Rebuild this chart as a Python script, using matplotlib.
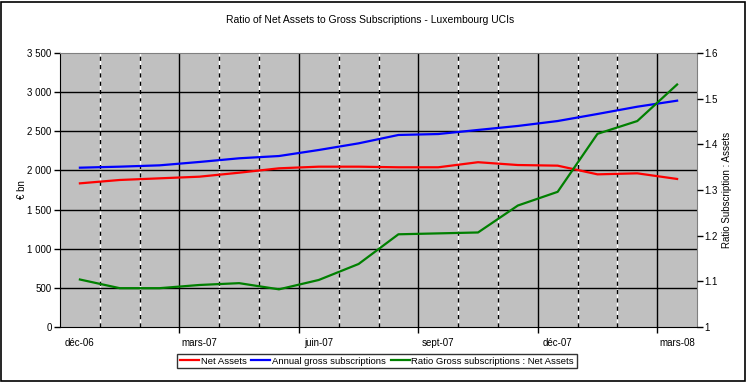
import matplotlib
matplotlib.use("Agg")
import matplotlib.pyplot as plt
from matplotlib.patches import Rectangle

plt.rcParams['font.family'] = ['Liberation Sans', 'DejaVu Sans']

months = ["déc-06", "janv-07", "févr-07", "mars-07", "avr-07", "mai-07", "juin-07", "juil-07",
          "août-07", "sept-07", "oct-07", "nov-07", "déc-07", "janv-08", "févr-08", "mars-08"]
net_assets = [1835, 1878, 1899, 1920, 1971, 2027, 2048, 2048, 2040, 2040, 2105, 2069, 2061, 1950, 1963, 1891]
gross_subs = [2035, 2048, 2065, 2108, 2155, 2184, 2261, 2346, 2453, 2465, 2517, 2568, 2631, 2721, 2814, 2891]
ratio = [1.104, 1.085, 1.085, 1.092, 1.096, 1.0825, 1.103, 1.138, 1.203, 1.205, 1.207, 1.266, 1.296, 1.423, 1.451, 1.531]
label_idx = [0, 3, 6, 9, 12, 15]

W, H = 746, 382
fig = plt.figure(figsize=(W/100, H/100), dpi=100)
fig.patch.set_facecolor('white')
fig.add_artist(Rectangle((0.5/W, 1/H), 1 - 2/W, 1 - 2.5/H, transform=fig.transFigure,
                         fill=False, edgecolor='black', linewidth=1.2))

ax = fig.add_axes([60/W, 1 - 327/H, (697-60)/W, (327-53)/H])
ax.set_facecolor('#C0C0C0')
x = list(range(len(months)))
n = len(months)
ax.set_xlim(-0.5, n - 0.5)
ax.set_ylim(0, 3500)

# gridlines
for k in range(1, n):
    xb = k - 0.5
    if k % 3 == 0:
        ax.axvline(xb, color='black', lw=1.0, zorder=1)
    else:
        ax.axvline(xb, color='white', lw=1.0, zorder=1)
        ax.axvline(xb, color='black', lw=1.0, linestyle=(0, (3, 3)), zorder=1.1)
for yv in range(500, 3500, 500):
    ax.axhline(yv, color='black', lw=1.0, zorder=1)

l1, = ax.plot(x, net_assets, color='#FF0000', lw=1.6, zorder=3, label='Net Assets')
l2, = ax.plot(x, gross_subs, color='#0000FF', lw=1.6, zorder=3, label='Annual gross subscriptions')

ax.set_yticks(range(0, 3501, 500))
ax.set_yticklabels([f"{v:,}".replace(",", " ") for v in range(0, 3501, 500)])
ax.set_xticks([k + 2.5 for k in range(0, n - 1, 3)])
ax.set_xticklabels([])
ax.set_xticks(label_idx, minor=True)
ax.set_xticklabels([months[i] for i in label_idx], minor=True)
ax.tick_params(axis='x', which='major', direction='out', length=4, width=1, color='black')
ax.tick_params(axis='x', which='minor', length=0, pad=8, labelsize=7)
ax.tick_params(axis='y', direction='out', length=4, width=1, labelsize=7, pad=2)
for s in ['top', 'right']:
    ax.spines[s].set_color('#808080')
for s in ['left', 'bottom']:
    ax.spines[s].set_color('black')

ax2 = ax.twinx()
ax2.set_ylim(1, 1.6)
l3, = ax2.plot(x, ratio, color='#008000', lw=1.6, zorder=3, label='Ratio Gross subscriptions : Net Assets')
ax2.set_yticks([1.0, 1.1, 1.2, 1.3, 1.4, 1.5, 1.6])
ax2.set_yticklabels(['1', '1.1', '1.2', '1.3', '1.4', '1.5', '1.6'])
ax2.tick_params(axis='y', direction='out', length=4, width=1, labelsize=7, pad=1)
for s in ['top', 'right', 'left', 'bottom']:
    ax2.spines[s].set_visible(False)

fig.text(22/W, 1 - 190/H, '€ bn', rotation=90, ha='center', va='center', fontsize=7)
fig.text(727/W, 1 - 190/H, 'Ratio Subscription : Assets', rotation=90, ha='center', va='center', fontsize=7)

fig.text(370/W, 1 - 20/H, 'Ratio of Net Assets to Gross Subscriptions - Luxembourg UCIs',
         ha='center', va='center', fontsize=7.5)

leg = fig.legend(handles=[l1, l2, l3], loc='center', bbox_to_anchor=(377/W, 1 - 361/H),
                 ncol=3, fontsize=6.8, frameon=True, fancybox=False, edgecolor='black',
                 handlelength=2.0, handletextpad=0.2, columnspacing=0.5, borderpad=0.3,
                 borderaxespad=0)
leg.get_frame().set_linewidth(1.0)

fig.savefig('out.png', dpi=100)
